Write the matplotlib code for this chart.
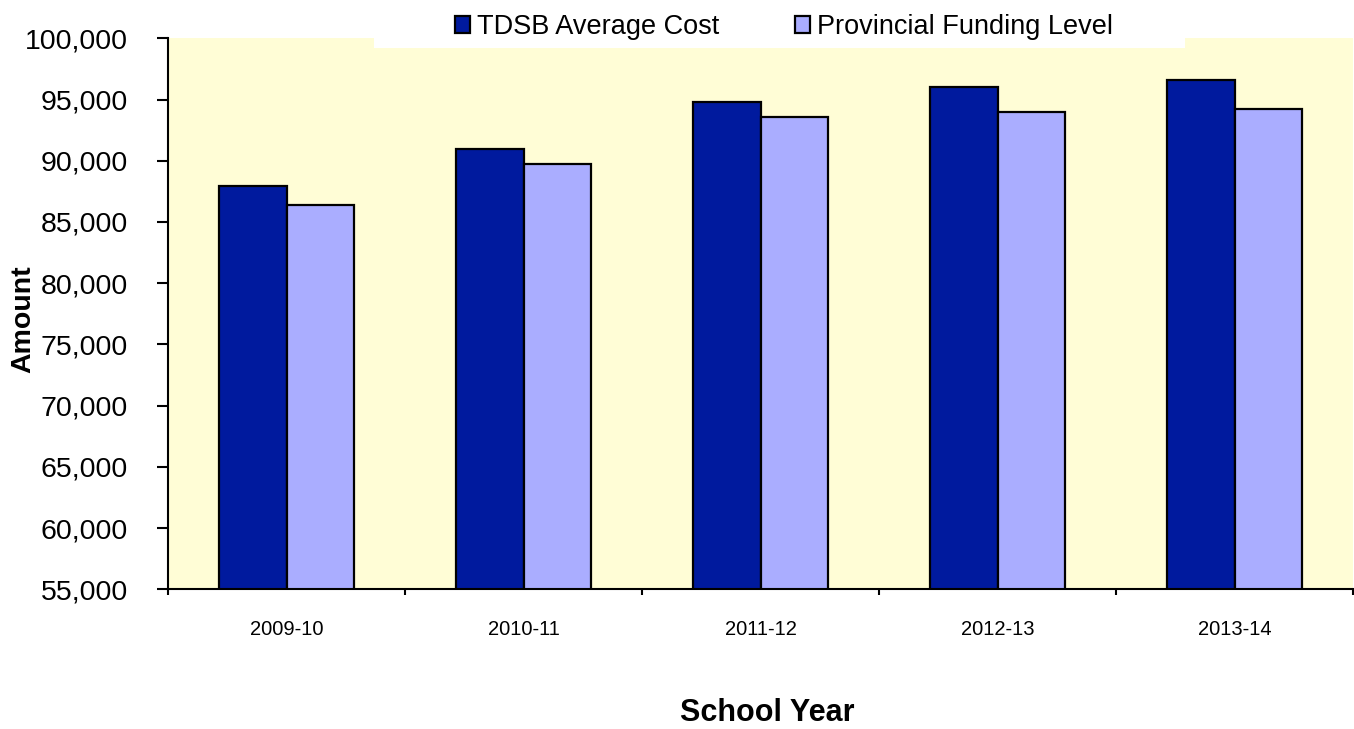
import numpy as np
import matplotlib
matplotlib.use("Agg")
import matplotlib.pyplot as plt
from matplotlib.patches import Rectangle
from matplotlib.ticker import FuncFormatter, FixedLocator

plt.rcParams['font.family'] = ['Liberation Sans', 'DejaVu Sans']

# dados
anos = ['2009-10', '2010-11', '2011-12', '2012-13', '2013-14']
tdsb_custo = [87960, 90930, 94820, 96050, 96620]
financiamento = [86380, 89700, 93600, 93950, 94200]

cor_tdsb = '#001A9E'
cor_prov = '#AAADFF'
fundo = '#FFFDD6'

fig = plt.figure(figsize=(13.54, 7.29), dpi=100)
ax = fig.add_axes([168/1354, 1 - 589.3/729, 1185/1354, 551/729])
ax.set_facecolor(fundo)

x = np.arange(len(anos))
largura = 1 / 3.5  # gap de 150%

b1 = ax.bar(x - largura/2, tdsb_custo, width=largura, color=cor_tdsb,
            edgecolor='black', linewidth=1.6, label='TDSB Average Cost')
b2 = ax.bar(x + largura/2, financiamento, width=largura, color=cor_prov,
            edgecolor='black', linewidth=1.6, label='Provincial Funding Level')

ax.set_xlim(-0.5, len(anos) - 0.5)
ax.set_ylim(55000, 100000)
ax.set_yticks(np.arange(55000, 100001, 5000))
ax.yaxis.set_major_formatter(FuncFormatter(lambda v, p: f'{int(v):,}'))

ax.set_xticks(x)
ax.set_xticklabels(anos, fontsize=14.5)
ax.xaxis.set_minor_locator(FixedLocator(np.arange(-0.5, len(anos), 1)))
ax.tick_params(axis='x', which='major', length=0, pad=22)
ax.tick_params(axis='x', which='minor', length=4, width=1.5, direction='out')
ax.tick_params(axis='y', labelsize=20.5, length=8, width=1.5, pad=21)

for s in ['top', 'right']:
    ax.spines[s].set_visible(False)
for s in ['left', 'bottom']:
    ax.spines[s].set_linewidth(1.5)

ax.set_ylabel('Amount', fontsize=20.5, fontweight='bold')
ax.yaxis.set_label_coords(-0.111, 0.49)
fig.text(767/1354, 1 - 713/729, 'School Year', fontsize=22, fontweight='bold',
         ha='center', va='center')

# caixa branca da legenda
fig.patches.append(Rectangle((374/1354, 1 - 47.7/729), 811/1354, 47.7/729,
                             transform=fig.transFigure, facecolor='white',
                             edgecolor='none', zorder=2))
leg = fig.legend(handles=[b1, b2], loc='center', bbox_to_anchor=(784/1354, 1 - 27/729),
                 ncol=2, frameon=False, fontsize=19.5, handlelength=0.55,
                 handleheight=0.55, handletextpad=0.25, columnspacing=2.8)
leg.set_zorder(3)

fig.savefig('out.png', dpi=100, facecolor='white')
